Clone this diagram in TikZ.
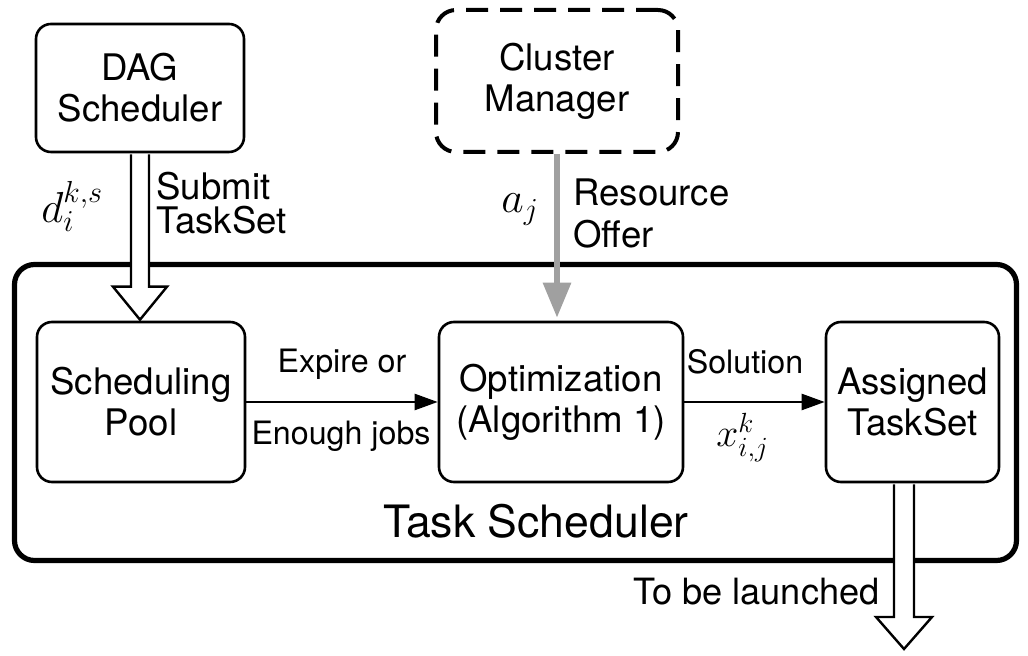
\RequirePackage{fix-cm}
\documentclass[tikz,border=0pt]{standalone}
\usepackage{fontspec}
\setmainfont{TeX Gyre Heros}
\usetikzlibrary{calc,arrows.meta}
\definecolor{arrowgray}{RGB}{160,160,160}
\begin{document}
\begin{tikzpicture}[x=0.5pt,y=-0.5pt,
  box/.style={draw, line width=1.3pt, rounded corners=7.5pt, align=center,
    inner sep=0pt, font=\fontsize{18.3}{20.5}\selectfont},
  lbl/.style={inner sep=0pt, font=\fontsize{16.1}{18}\selectfont},
  sidetxt/.style={inner sep=0pt, align=left},
  mathlbl/.style={inner sep=0pt},
  openarrow/.style={draw, fill=white, line width=1.2pt, line join=miter},
  flow/.style={draw, line width=1.2pt, -{Triangle[length=11.5pt,width=8pt]}},
  offer/.style={draw=arrowgray, line width=3pt,
    -{Triangle[length=17.5pt,width=13.5pt,fill=arrowgray]}}
]
\useasboundingbox (0,0) rectangle (1028,656);

% big Task Scheduler container
\node[draw, line width=2.6pt, rounded corners=10pt, minimum width=501pt,
  minimum height=148pt, inner sep=0pt] (ts) at (515.5,412.5) {};
\node[inner sep=0pt, anchor=base, font=\fontsize{22.3}{24}\selectfont] (tslabel) at (536,538) {Task Scheduler};

% boxes
\node[box, minimum width=104pt, minimum height=64pt] (dag) at (140,88) {DAG\\Scheduler};
\node[box, dashed, dash pattern=on 11pt off 6pt, line width=2pt, rounded corners=10pt,
  minimum width=121pt, minimum height=71pt] (cluster) at (557,81) {Cluster\\Manager};
\node[box, minimum width=104pt, minimum height=80pt] (pool) at (141,402) {Scheduling\\Pool};
\node[box, minimum width=122pt, minimum height=80pt] (opt) at (561,402) {Optimization\\(Algorithm 1)};
\node[box, minimum width=86.5pt, minimum height=80pt] (assigned) at (912.5,402) {Assigned\\TaskSet};

% flow arrows
\draw[flow] (pool.east) -- (opt.west);
\draw[flow] (opt.east) -- (assigned.west);
\node[lbl, anchor=base] (expire) at (342,373) {Expire or};
\node[lbl, anchor=base] (enough) at (341,445) {Enough jobs};
\node[lbl, anchor=base] (solution) at (745,374) {Solution};
\node[mathlbl, anchor=base west, font=\fontsize{19.8}{22}\selectfont] (xlbl) at (716,447) {$x_{i,j}^{k}$};

% resource offer arrow
\coordinate (offerend) at ($(cluster.south |- opt.north)+(0,-3)$);
\draw[offer] (cluster.south) -- (offerend);
\node[mathlbl, anchor=base west, font=\fontsize{21.8}{24}\selectfont] (albl) at (501,213) {$a_j$};
\node[sidetxt, anchor=west, font=\fontsize{18.3}{21}\selectfont] (offerlbl) at (573,213.5) {Resource\\Offer};

% submit open arrow
\coordinate (s1) at ($(dag.south)+(0,1)$);
\coordinate (t1) at ($(dag.south |- pool.north)+(0,-1)$);
\draw[openarrow] ($(s1)+(-9,0)$) -- ($(t1)+(-9,-33)$) -- ($(t1)+(-27,-33)$) -- (t1)
  -- ($(t1)+(27,-33)$) -- ($(t1)+(9,-33)$) -- ($(s1)+(9,0)$);
\node[mathlbl, anchor=base west, font=\fontsize{21.7}{24}\selectfont] (dlbl) at (41,223) {$d_i^{k,s}$};
\node[sidetxt, anchor=west, font=\fontsize{18.3}{17}\selectfont] (submitlbl) at (156,203) {Submit\\TaskSet};

% launch open arrow
\coordinate (launch) at (904,649);
\coordinate (s2) at ($(launch |- assigned.south)+(0,1)$);
\draw[openarrow] ($(s2)+(-10,0)$) -- ($(launch)+(-10,-32)$) -- ($(launch)+(-28,-32)$) -- (launch)
  -- ($(launch)+(28,-32)$) -- ($(launch)+(10,-32)$) -- ($(s2)+(10,0)$);
\node[inner sep=0pt, anchor=base east, font=\fontsize{18.1}{20}\selectfont] (launchlbl) at (880,605) {To be launched};
\end{tikzpicture}
\end{document}
